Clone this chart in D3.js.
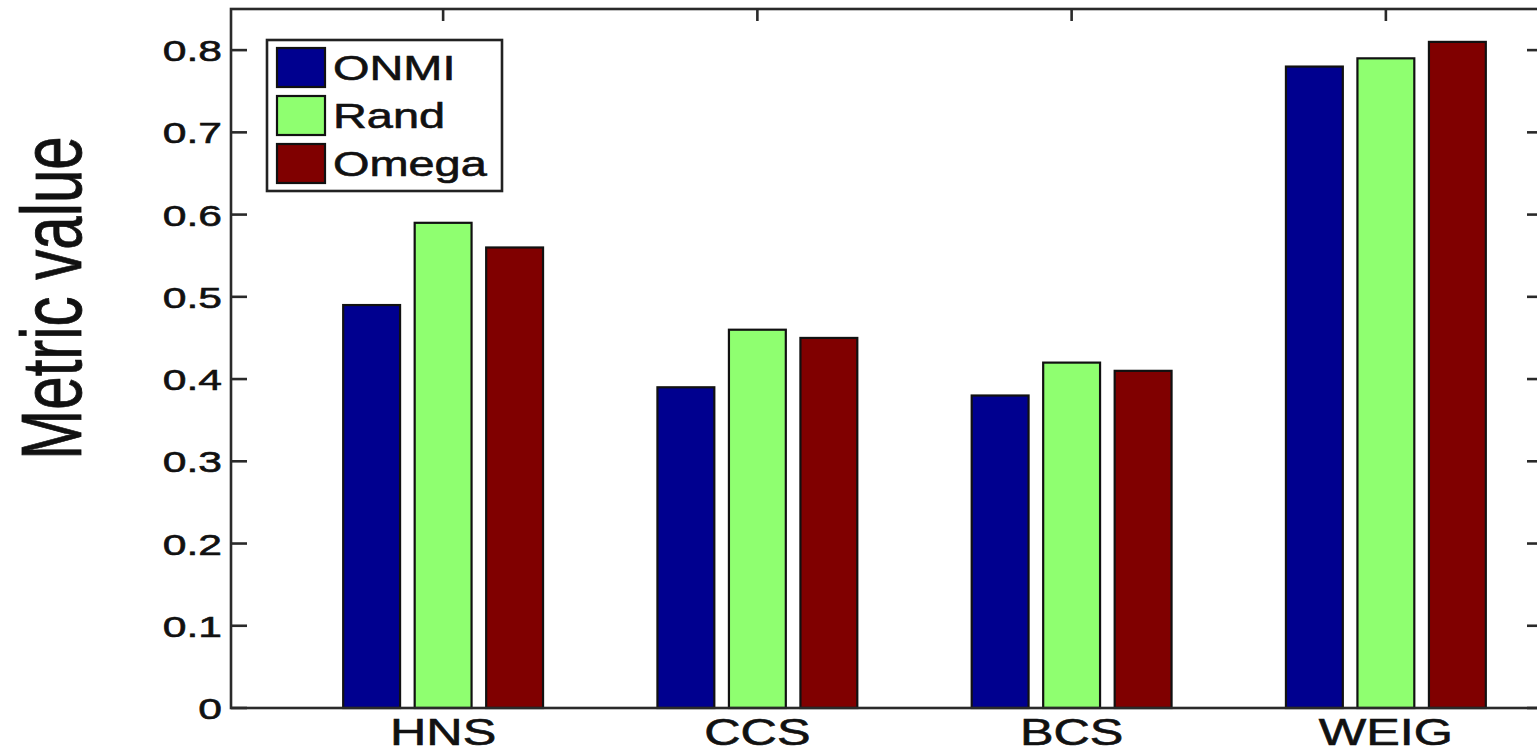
<!DOCTYPE html>
<html>
<head>
<meta charset="utf-8">
<script src="https://cdn.jsdelivr.net/npm/d3@7"></script>
<style>
  html, body { margin: 0; padding: 0; background: #fff; overflow: hidden; }
  svg { display: block; }
  text { font-family: "Liberation Sans", Arial, Helvetica, sans-serif; fill: #111; stroke: #111; stroke-width: 0.6px; }
</style>
</head>
<body>
<svg id="chart" width="1537" height="752"></svg>
<script>
// Data
const categories = ["HNS", "CCS", "BCS", "WEIG"];
const seriesNames = ["ONMI", "Rand", "Omega"];
const seriesColors = ["#00008f", "#8fff70", "#800000"];
const onmi  = [0.49, 0.39, 0.38, 0.78];
const rand  = [0.59, 0.46, 0.42, 0.79];
const omega = [0.56, 0.45, 0.41, 0.81];
const yTicks = [0, 0.1, 0.2, 0.3, 0.4, 0.5, 0.6, 0.7, 0.8];
const yLabel = "Metric value";

const seriesValues = [onmi, rand, omega];

// Layout
const svg = d3.select("#chart");
const plotL = 231, plotR = 1543, plotT = 9, plotB = 708;
const sx = 1.42; // horizontal text stretch

const x = d3.scaleLinear().domain([-0.675, 3.5]).range([plotL, plotR]);
const y = d3.scaleLinear().domain([0, 0.85]).range([plotB, plotT]);

// Group geometry (in category units)
const barStep = 0.2275, barW = 0.181;

// Bars
const rows = [];
categories.forEach((c, i) => {
  seriesValues.forEach((vals, s) => {
    rows.push({ i, s, v: vals[i] });
  });
});

svg.append("g").selectAll("rect")
  .data(rows)
  .enter().append("rect")
  .attr("x", d => x(d.i + (d.s - 1) * barStep - barW / 2))
  .attr("width", d => x(barW) - x(0))
  .attr("y", d => y(d.v))
  .attr("height", d => y(0) - y(d.v))
  .attr("fill", d => seriesColors[d.s])
  .attr("stroke", "#111")
  .attr("stroke-width", 2.2);

// Axes frame
const axisColor = "#2a2a2a";
const frame = svg.append("g").attr("stroke", axisColor).attr("stroke-width", 2.6).attr("fill", "none");
frame.append("rect")
  .attr("x", plotL).attr("y", plotT)
  .attr("width", plotR - plotL).attr("height", plotB - plotT);

// Y ticks (left and right, pointing inward)
yTicks.forEach(t => {
  frame.append("line").attr("x1", plotL).attr("x2", plotL + 16).attr("y1", y(t)).attr("y2", y(t));
  frame.append("line").attr("x1", plotR).attr("x2", plotR - 16).attr("y1", y(t)).attr("y2", y(t));
});
// X ticks on top edge pointing down
categories.forEach((c, i) => {
  frame.append("line").attr("x1", x(i)).attr("x2", x(i)).attr("y1", plotT).attr("y2", plotT + 12);
});

// Y tick labels
svg.append("g").selectAll("text")
  .data(yTicks)
  .enter().append("text")
  .attr("transform", d => `translate(${plotL - 9},${y(d) + 11}) scale(${sx},1)`)
  .attr("text-anchor", "end")
  .attr("font-size", 30)
  .text(d => d === 0 ? "0" : d3.format(".1f")(d));

// Category labels
svg.append("g").selectAll("text")
  .data(categories)
  .enter().append("text")
  .attr("transform", (d, i) => `translate(${x(i)},745) scale(1.36,1)`)
  .attr("text-anchor", "middle")
  .attr("font-size", 37)
  .text(d => d);

// Y axis title
svg.append("text")
  .attr("transform", `translate(81,298) scale(${sx},1) rotate(-90)`)
  .attr("text-anchor", "middle")
  .attr("font-size", 60)
  .text(yLabel);

// Legend
const legend = svg.append("g");
legend.append("rect")
  .attr("x", 267).attr("y", 40).attr("width", 235).attr("height", 151)
  .attr("fill", "#fff").attr("stroke", "#222").attr("stroke-width", 2.6);
const legItems = legend.selectAll("g.item")
  .data(seriesNames)
  .enter().append("g").attr("class", "item")
  .attr("transform", (d, i) => `translate(0,${i * 48})`);
legItems.append("rect")
  .attr("x", 277).attr("y", 48).attr("width", 48).attr("height", 39)
  .attr("fill", (d, i) => seriesColors[i])
  .attr("stroke", "#111").attr("stroke-width", 2.2);
legItems.append("text")
  .attr("transform", `translate(333,80) scale(1.34,1)`)
  .attr("font-size", 35)
  .text(d => d);
</script>
</body>
</html>
